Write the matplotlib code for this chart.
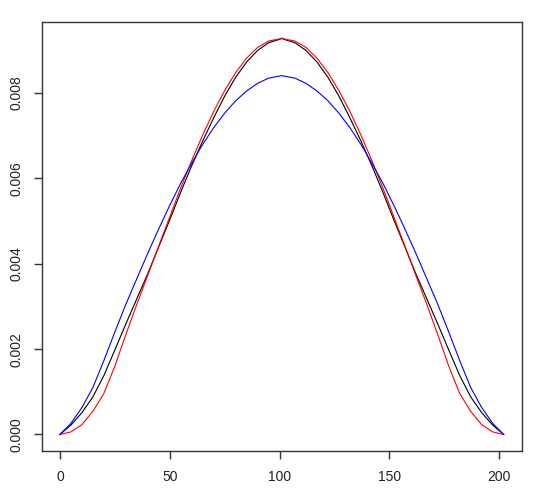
import matplotlib
matplotlib.use("Agg")
import matplotlib.pyplot as plt

plt.rcParams['font.family'] = ['Liberation Sans', 'DejaVu Sans']

x = [0, 5, 10, 15, 20, 25, 30, 35, 40, 45, 50, 55, 60, 65, 70, 75, 80, 85, 90, 95, 100,
     101,
     102, 107, 112, 117, 122, 127, 132, 137, 142, 147, 152, 157, 162, 167, 172, 177, 182,
     187, 192, 197, 202]

black = [0.0, 0.00022, 0.00051, 0.00088, 0.00138, 0.00198, 0.00259, 0.00318, 0.00377,
         0.00440, 0.00503, 0.00568, 0.00630, 0.00688, 0.00742, 0.00793, 0.00837, 0.00873,
         0.00900, 0.00918, 0.00926,
         0.00928,
         0.00926, 0.00918, 0.00900, 0.00873, 0.00837, 0.00793, 0.00742, 0.00688, 0.00630,
         0.00568, 0.00503, 0.00440, 0.00377, 0.00318, 0.00259, 0.00198, 0.00138, 0.00088,
         0.00051, 0.00022, 0.0]

red = [0.0, 0.00006, 0.00023, 0.00054, 0.00096, 0.00160, 0.00234, 0.00305, 0.00373,
       0.00442, 0.00510, 0.00578, 0.00642, 0.00702, 0.00757, 0.00806, 0.00848, 0.00882,
       0.00907, 0.00922, 0.00927,
       0.00929,
       0.00927, 0.00922, 0.00907, 0.00882, 0.00848, 0.00806, 0.00757, 0.00702, 0.00642,
       0.00578, 0.00510, 0.00442, 0.00373, 0.00305, 0.00234, 0.00160, 0.00096, 0.00054,
       0.00023, 0.00006, 0.0]

blue = [0.0, 0.00026, 0.00063, 0.00110, 0.00173, 0.00240, 0.00305, 0.00365, 0.00425,
        0.00482, 0.00537, 0.00589, 0.00636, 0.00680, 0.00719, 0.00753, 0.00782, 0.00805,
        0.00823, 0.00835, 0.00840,
        0.00841,
        0.00840, 0.00835, 0.00823, 0.00805, 0.00782, 0.00753, 0.00719, 0.00680, 0.00636,
        0.00589, 0.00537, 0.00482, 0.00425, 0.00365, 0.00305, 0.00240, 0.00173, 0.00110,
        0.00063, 0.00026, 0.0]

xticks = [0, 50, 100, 150, 200]
yticks = [0.000, 0.002, 0.004, 0.006, 0.008]
ytick_labels = ["0.000", "0.002", "0.004", "0.006", "0.008"]

fig = plt.figure(figsize=(5.4, 4.95), dpi=100)
ax = fig.add_axes([0.0772, 0.0895, 0.8889, 0.8655])

ax.plot(x, black, color='black', lw=0.8)
ax.plot(x, red, color='red', lw=0.8)
ax.plot(x, blue, color='blue', lw=0.8)

ax.set_xlim(-8.3, 210.2)
ax.set_ylim(-0.00038, 0.00966)
ax.set_xticks(xticks)
ax.set_xticklabels([str(t) for t in xticks])
ax.set_yticks(yticks)
ax.set_yticklabels(ytick_labels, rotation=90, va='center')

for s in ax.spines.values():
    s.set_color('#333333')
    s.set_linewidth(1.0)
ax.tick_params(axis='both', length=5.8, width=1.0, color='#333333',
               labelsize=10, labelcolor='#222222')
ax.tick_params(axis='x', pad=8)
ax.tick_params(axis='y', pad=7)

fig.savefig("out.png", dpi=100)
